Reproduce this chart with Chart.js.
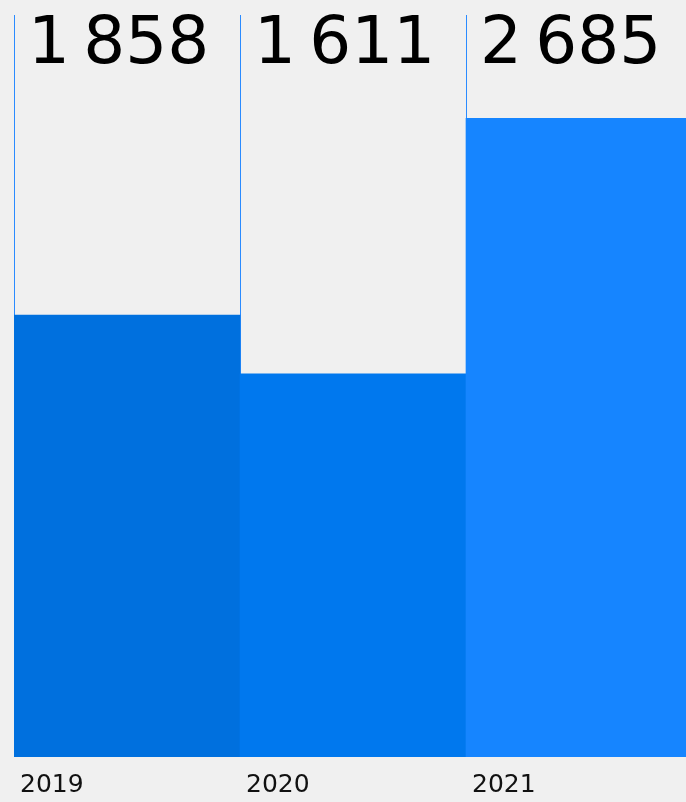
<!DOCTYPE html>
<html>
<head>
<meta charset="utf-8">
<script src="https://cdn.jsdelivr.net/npm/chart.js@4/dist/chart.umd.min.js"></script>
<style>
  html, body { margin: 0; padding: 0; background: #f0f0f0; overflow: hidden; }
  #wrap { width: 686px; height: 802px; overflow: hidden; }
  #c { display: block; }
</style>
</head>
<body>
<div id="wrap"><canvas id="c" width="692" height="802"></canvas></div>
<script>
// Yearly totals
const years = ['2019', '2020', '2021'];
const totals = [1858, 1611, 2685];
const valueLabels = ['1\u2009858', '1\u2009611', '2\u2009685'];
const barColors = ['#0070de', '#0078ee', '#1685ff'];

// Large value figure drawn at the top of each column
const valueLabelPlugin = {
  id: 'valueLabels',
  afterDatasetsDraw(chart) {
    const { ctx, chartArea } = chart;
    const meta = chart.getDatasetMeta(0);
    ctx.save();
    ctx.font = '400 66px "DejaVu Sans"';
    ctx.fillStyle = '#000';
    ctx.textAlign = 'left';
    ctx.textBaseline = 'alphabetic';
    meta.data.forEach((bar, i) => {
      const left = bar.x - bar.width / 2;
      ctx.fillText(valueLabels[i], left + 14, chartArea.top + 48);
    });
    ctx.restore();
  }
};

new Chart(document.getElementById('c'), {
  type: 'bar',
  data: {
    labels: years,
    datasets: [{
      data: totals,
      backgroundColor: barColors,
      borderWidth: 0,
      categoryPercentage: 1,
      barPercentage: 1
    }]
  },
  options: {
    responsive: false,
    animation: false,
    events: [],
    layout: { padding: { left: 14, top: 15, right: 0, bottom: 0 } },
    plugins: { legend: { display: false }, tooltip: { enabled: false } },
    scales: {
      y: { display: false, min: 0, max: 3119 },
      x: {
        offset: true,
        afterFit(scale) { scale.height = 45; },
        border: { display: false },
        grid: {
          offset: true,
          drawTicks: false,
          lineWidth: 1,
          color: (ctx) => (ctx.index === 3 ? 'rgba(0,0,0,0)' : '#2a8bff')
        },
        ticks: {
          align: 'start',
          labelOffset: -107,
          padding: 13,
          color: '#111',
          font: { family: '"DejaVu Sans"', size: 25 }
        }
      }
    }
  },
  plugins: [valueLabelPlugin]
});
</script>
</body>
</html>
